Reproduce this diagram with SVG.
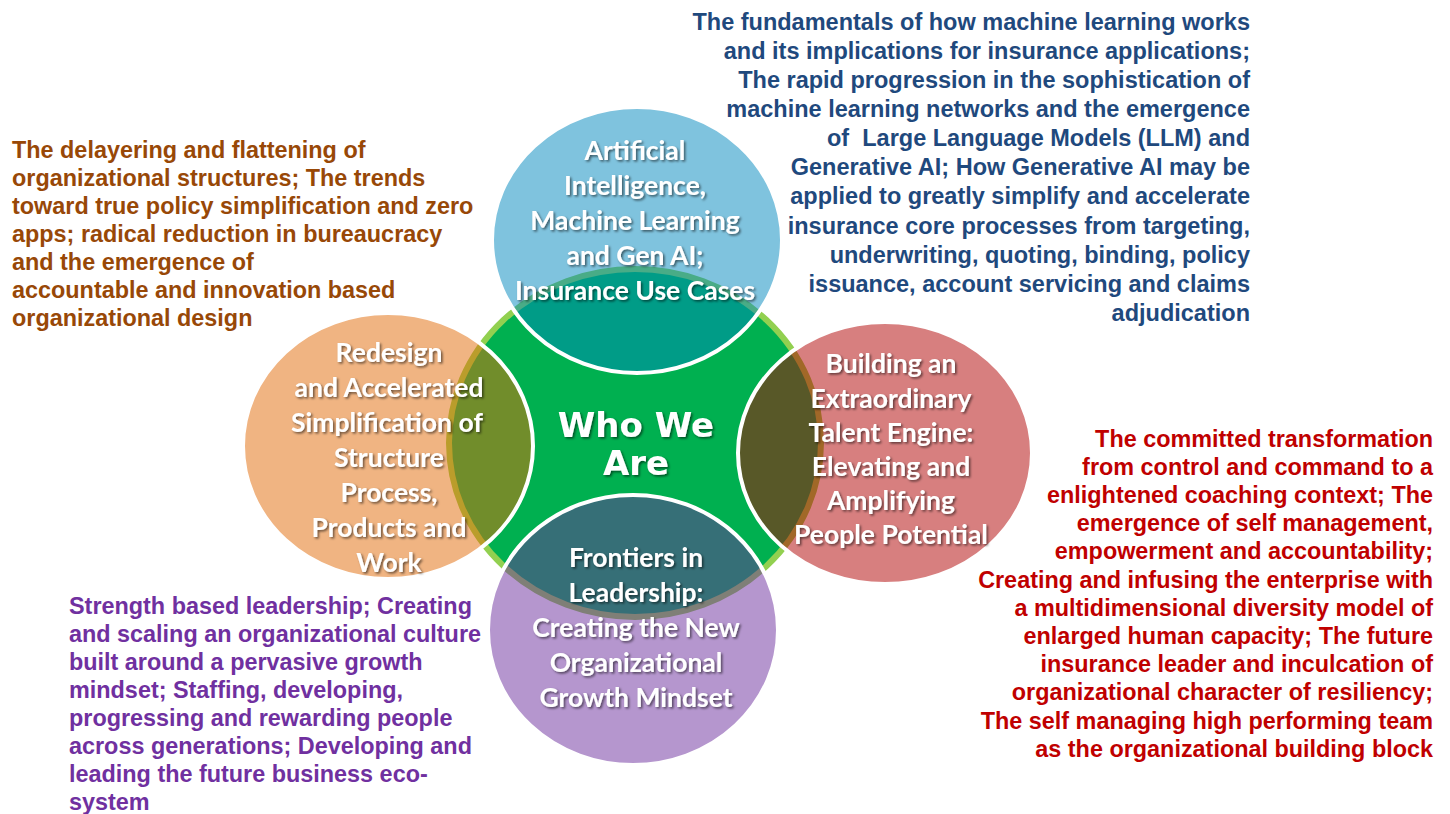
<svg xmlns="http://www.w3.org/2000/svg" width="1450" height="814" viewBox="0 0 1450 814">
  <defs>
    <filter id="shadow" x="-10%" y="-10%" width="130%" height="130%">
      <feDropShadow dx="1.6" dy="1.6" stdDeviation="1" flood-color="#000" flood-opacity="0.55"/>
    </filter>
    <style>
      .ring { stroke: #ffffff; stroke-width: 4; fill-opacity: 0.5; }
      .label { font-family: Lato, "Open Sans", "Liberation Sans", sans-serif; font-weight: 700; font-size: 26.5px; fill: #ffffff; text-anchor: middle; filter: url(#shadow); }
      .hub { font-family: "DejaVu Sans", "Liberation Sans", sans-serif; font-weight: 700; font-size: 34px; fill: #ffffff; text-anchor: middle; filter: url(#shadow); }
      .note { font-family: "Liberation Sans", Arial, sans-serif; font-weight: 700; font-size: 23.4px; }
      .n-blue { fill: #1F497D; text-anchor: end; font-size: 23.5px; }
      .n-brown { fill: #984807; }
      .n-red { fill: #C00000; text-anchor: end; }
      .n-purple { fill: #7030A0; }
    </style>
  </defs>

  <!-- central hub -->
  <g id="node-hub">
    <ellipse cx="635" cy="443" rx="186" ry="174" fill="#00B050" stroke="#92D050" stroke-width="6"/>
  </g>

  <!-- four theme circles, translucent over the hub -->
  <g id="node-ai">
    <ellipse class="ring" cx="637" cy="240" rx="145" ry="133" fill="#0087BE"/>
  </g>
  <g id="node-redesign">
    <ellipse class="ring" cx="388" cy="446" rx="145" ry="133" fill="#E16905"/>
  </g>
  <g id="node-talent">
    <ellipse class="ring" cx="885" cy="453" rx="147" ry="131" fill="#B00000"/>
  </g>
  <g id="node-leadership">
    <ellipse class="ring" cx="633" cy="630" rx="145" ry="135" fill="#6B2E9E"/>
  </g>

  <!-- labels -->
  <g id="label-hub">
    <text class="hub" x="636" y="437">Who We</text>
    <text class="hub" x="636" y="475">Are</text>
  </g>
  <g id="label-ai">
    <text class="label" x="635" y="160">Artificial</text>
    <text class="label" x="635" y="195">Intelligence,</text>
    <text class="label" x="635" y="230">Machine Learning</text>
    <text class="label" x="635" y="265">and Gen AI;</text>
    <text class="label" x="635" y="300">Insurance Use Cases</text>
  </g>
  <g id="label-redesign">
    <text class="label" x="389" y="362">Redesign</text>
    <text class="label" x="389" y="397">and Accelerated</text>
    <text class="label" x="387" y="432">Simplification of</text>
    <text class="label" x="389" y="467">Structure</text>
    <text class="label" x="389" y="502">Process,</text>
    <text class="label" x="389" y="537">Products and</text>
    <text class="label" x="389" y="572">Work</text>
  </g>
  <g id="label-talent">
    <text class="label" x="891" y="373">Building an</text>
    <text class="label" x="891" y="408">Extraordinary</text>
    <text class="label" x="891" y="442">Talent Engine:</text>
    <text class="label" x="891" y="476">Elevating and</text>
    <text class="label" x="891" y="510">Amplifying</text>
    <text class="label" x="891" y="544">People Potential</text>
  </g>
  <g id="label-leadership">
    <text class="label" x="636" y="567">Frontiers in</text>
    <text class="label" x="636" y="602">Leadership:</text>
    <text class="label" x="636" y="637">Creating the New</text>
    <text class="label" x="636" y="672">Organizational</text>
    <text class="label" x="636" y="707">Growth Mindset</text>
  </g>

  <!-- descriptive notes -->
  <g id="note-ai" class="note n-blue">
    <text x="1250" y="30">The fundamentals of how machine learning works</text>
    <text x="1250" y="59">and its implications for insurance applications;</text>
    <text x="1250" y="88">The rapid progression in the sophistication of</text>
    <text x="1250" y="117">machine learning networks and the emergence</text>
    <text x="1250" y="146" xml:space="preserve">of  Large Language Models (LLM) and</text>
    <text x="1250" y="175">Generative AI; How Generative AI may be</text>
    <text x="1250" y="204">applied to greatly simplify and accelerate</text>
    <text x="1250" y="234">insurance core processes from targeting,</text>
    <text x="1250" y="263">underwriting, quoting, binding, policy</text>
    <text x="1250" y="292">issuance, account servicing and claims</text>
    <text x="1250" y="321">adjudication</text>
  </g>
  <g id="note-redesign" class="note n-brown">
    <text x="12" y="158">The delayering and flattening of</text>
    <text x="12" y="186">organizational structures; The trends</text>
    <text x="12" y="214">toward true policy simplification and zero</text>
    <text x="12" y="242">apps; radical reduction in bureaucracy</text>
    <text x="12" y="270">and the emergence of</text>
    <text x="12" y="298">accountable and innovation based</text>
    <text x="12" y="326">organizational design</text>
  </g>
  <g id="note-talent" class="note n-red">
    <text x="1433" y="447">The committed transformation</text>
    <text x="1433" y="475">from control and command to a</text>
    <text x="1433" y="503">enlightened coaching context; The</text>
    <text x="1433" y="531">emergence of self management,</text>
    <text x="1433" y="559">empowerment and accountability;</text>
    <text x="1433" y="588">Creating and infusing the enterprise with</text>
    <text x="1433" y="616">a multidimensional diversity model of</text>
    <text x="1433" y="644">enlarged human capacity; The future</text>
    <text x="1433" y="672">insurance leader and inculcation of</text>
    <text x="1433" y="700">organizational character of resiliency;</text>
    <text x="1433" y="729">The self managing high performing team</text>
    <text x="1433" y="757">as the organizational building block</text>
  </g>
  <g id="note-leadership" class="note n-purple">
    <text x="69" y="614">Strength based leadership; Creating</text>
    <text x="69" y="642">and scaling an organizational culture</text>
    <text x="69" y="670">built around a pervasive growth</text>
    <text x="69" y="698">mindset; Staffing, developing,</text>
    <text x="69" y="726">progressing and rewarding people</text>
    <text x="69" y="754">across generations; Developing and</text>
    <text x="69" y="782">leading the future business eco-</text>
    <text x="69" y="810">system</text>
  </g>
</svg>
